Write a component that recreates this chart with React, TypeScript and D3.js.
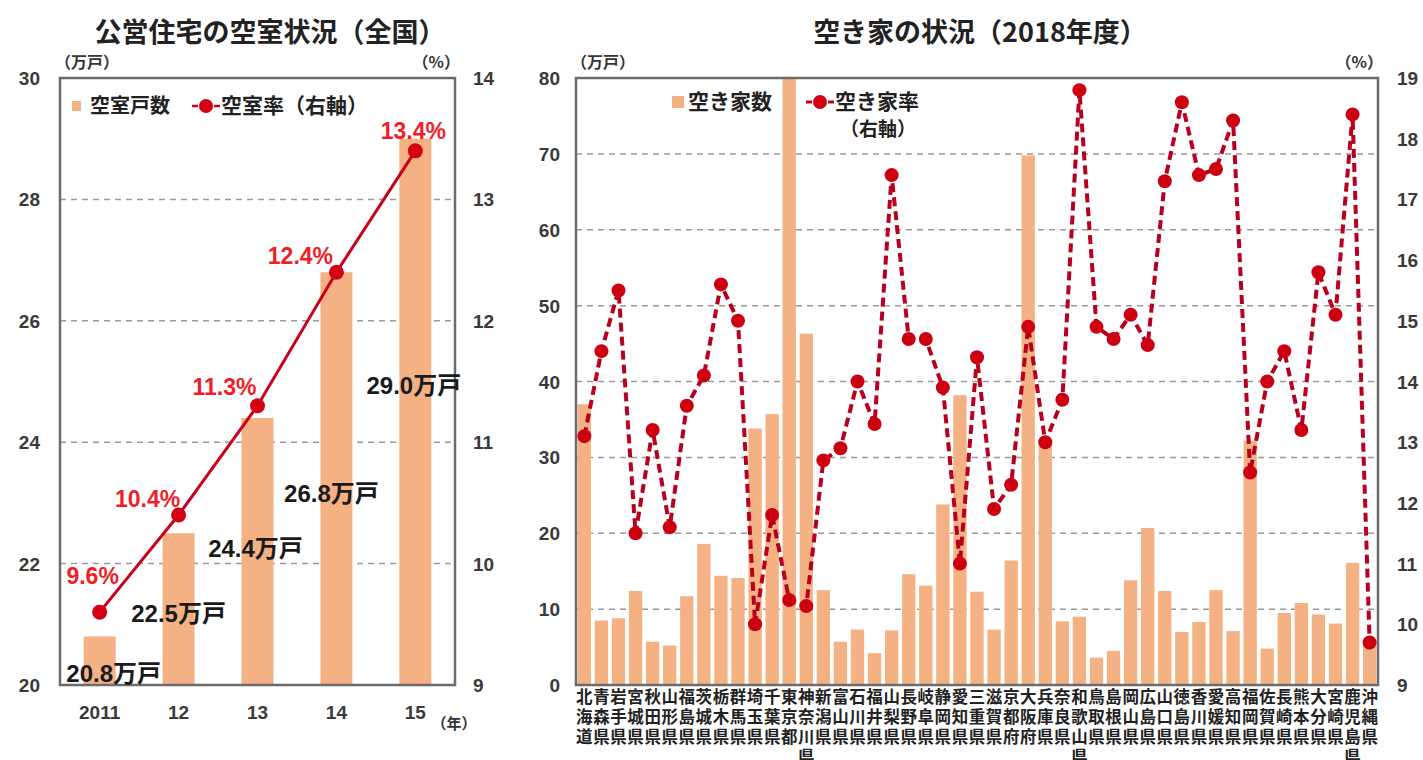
import React from 'react';
import * as d3 from 'd3';

// ---------- Left chart data ----------
const years = ['2011', '12', '13', '14', '15'];
const vacantUnits = [20.8, 22.5, 24.4, 26.8, 29.0];
const vacancyRate = [9.6, 10.4, 11.3, 12.4, 13.4];
const leftYTicks = [20, 22, 24, 26, 28, 30];
const leftY2Ticks = [9, 10, 11, 12, 13, 14];

// ---------- Right chart data ----------
const prefectures = [
  '北海道', '青森県', '岩手県', '宮城県', '秋田県', '山形県', '福島県', '茨城県', '栃木県', '群馬県',
  '埼玉県', '千葉県', '東京都', '神奈川県', '新潟県', '富山県', '石川県', '福井県', '山梨県', '長野県',
  '岐阜県', '静岡県', '愛知県', '三重県', '滋賀県', '京都府', '大阪府', '兵庫県', '奈良県', '和歌山県',
  '鳥取県', '島根県', '岡山県', '広島県', '山口県', '徳島県', '香川県', '愛媛県', '高知県', '福岡県',
  '佐賀県', '長崎県', '熊本県', '大分県', '宮崎県', '鹿児島県', '沖縄県',
];
const vacantHouses = [
  37.0, 8.5, 8.8, 12.4, 5.7, 5.2, 11.7, 18.6, 14.4, 14.1,
  33.8, 35.7, 81.0, 46.3, 12.5, 5.7, 7.3, 4.2, 7.2, 14.6,
  13.1, 23.8, 38.2, 12.3, 7.3, 16.4, 69.8, 32.3, 8.4, 9.0,
  3.6, 4.5, 13.8, 20.7, 12.4, 7.0, 8.3, 12.5, 7.1, 32.2,
  4.8, 9.5, 10.8, 9.3, 8.1, 16.1, 5.7,
];
const vacantRate = [
  13.1, 14.5, 15.5, 11.5, 13.2, 11.6, 13.6, 14.1, 15.6, 15.0,
  10.0, 11.8, 10.4, 10.3, 12.7, 12.9, 14.0, 13.3, 17.4, 14.7,
  14.7, 13.9, 11.0, 14.4, 11.9, 12.3, 14.9, 13.0, 13.7, 18.8,
  14.9, 14.7, 15.1, 14.6, 17.3, 18.6, 17.4, 17.5, 18.3, 12.5,
  14.0, 14.5, 13.2, 15.8, 15.1, 18.4, 9.7,
];
const rightYTicks = [0, 10, 20, 30, 40, 50, 60, 70, 80];
const rightY2Ticks = [9, 10, 11, 12, 13, 14, 15, 16, 17, 18, 19];

// label layout (offsets in px, label y in axis units)
const unitLabelDx = [14, 0, -2, -5, -1.5];
const unitLabelY = [20.2, 21.19, 22.26, 23.16, 24.94];
const rateLabelOffset: [number, number][] = [[-7, -37], [-31, -17], [-33, -20], [-36, -17], [-2, -21]];

const FONT = '"Liberation Sans", Arial, "Noto Sans CJK JP", sans-serif';
const JFONT = '"Noto Sans CJK JP", sans-serif';
const BAR = '#F4B183';
const RED = '#C8001A';
const TICK = '#3a3a3a';

function LegendMarker({ x, y, color, sw }: { x: number; y: number; color: string; sw: number }) {
  return (
    <g>
      <line x1={x - 14} x2={x - 8} y1={y} y2={y} stroke={color} strokeWidth={sw} />
      <line x1={x + 8} x2={x + 14} y1={y} y2={y} stroke={color} strokeWidth={sw} />
      <circle cx={x} cy={y} r={7} fill="#D40014" />
    </g>
  );
}

function LeftChart() {
  const L = 60, R = 455, T = 78, B = 685;
  const x = d3.scaleBand<string>().domain(years).range([L, R]).paddingInner(0.595).paddingOuter(0.3);
  const y = d3.scaleLinear().domain([20, 30]).range([B, T]);
  const y2 = d3.scaleLinear().domain([9, 14]).range([B, T]);
  const cx = (d: string) => (x(d) as number) + x.bandwidth() / 2;
  const line = d3.line<number>().x((_, i) => cx(years[i])).y((d) => y2(d));
  return (
    <g>
      <text x={270} y={42} textAnchor="middle" fontFamily={JFONT} fontWeight={700} fontSize={27} fill="#222">公営住宅の空室状況（全国）</text>
      <text x={55} y={68} fontFamily={JFONT} fontSize={16} fontWeight={700} fill="#333">（万戸）</text>
      <text x={460} y={68} textAnchor="end" fontFamily={JFONT} fontSize={16} fontWeight={700} fill="#333">（%）</text>
      {leftYTicks.filter((t) => t > 20 && t < 30).map((t) => (
        <line key={t} x1={L} x2={R} y1={y(t)} y2={y(t)} stroke="#9a9a9a" strokeWidth={1.5} strokeDasharray="6,5" />
      ))}
      {vacantUnits.map((v, i) => (
        <rect key={i} x={x(years[i])} y={y(v)} width={x.bandwidth()} height={B - y(v)} fill={BAR} />
      ))}
      <rect x={L} y={T} width={R - L} height={B - T} fill="none" stroke="#6b6b6b" strokeWidth={2.5} />
      {leftYTicks.map((t) => (
        <text key={t} x={40} y={y(t) + 7} textAnchor="end" fontFamily={FONT} fontWeight={700} fontSize={19} fill={TICK}>{t}</text>
      ))}
      {leftY2Ticks.map((t) => (
        <text key={t} x={473} y={y2(t) + 7} fontFamily={FONT} fontWeight={700} fontSize={19} fill={TICK}>{t}</text>
      ))}
      {years.map((d) => (
        <text key={d} x={cx(d)} y={719} textAnchor="middle" fontFamily={FONT} fontWeight={700} fontSize={19} fill={TICK}>{d}</text>
      ))}
      <text x={454} y={729} textAnchor="middle" fontFamily={JFONT} fontWeight={700} fontSize={15} fill="#333">（年）</text>
      <path d={line(vacancyRate) || ''} fill="none" stroke={RED} strokeWidth={3} />
      {vacancyRate.map((v, i) => (
        <circle key={i} cx={cx(years[i])} cy={y2(v)} r={7.5} fill="#D40014" />
      ))}
      {vacancyRate.map((v, i) => (
        <text key={i} x={cx(years[i]) + rateLabelOffset[i][0]} y={y2(v) + rateLabelOffset[i][1] + 9} textAnchor="middle"
          fontFamily={FONT} fontWeight={700} fontSize={23} fill="#F01E28">{v.toFixed(1)}%</text>
      ))}
      {vacantUnits.map((v, i) => (
        <text key={i} x={cx(years[i]) + unitLabelDx[i]} y={y(unitLabelY[i]) + 9} textAnchor="middle"
          fontFamily={FONT} fontWeight={700} fontSize={24} fill="#1a1a1a">{v.toFixed(1)}万戸</text>
      ))}
      {/* legend */}
      <rect x={72} y={101} width={9} height={10} fill={BAR} />
      <text x={90} y={113} fontFamily={JFONT} fontWeight={700} fontSize={20} fill="#222">空室戸数</text>
      <LegendMarker x={206} y={106} color={RED} sw={2.5} />
      <text x={221} y={113} fontFamily={JFONT} fontWeight={700} fontSize={21} fill="#222">空室率（右軸）</text>
    </g>
  );
}

function RightChart() {
  const L = 576, R = 1378, T = 78, B = 685;
  const x = d3.scaleBand<string>().domain(prefectures).range([L, R]).paddingInner(0.22).paddingOuter(0.1);
  const y = d3.scaleLinear().domain([0, 80]).range([B, T]);
  const y2 = d3.scaleLinear().domain([9, 19]).range([B, T]);
  const cx = (d: string) => (x(d) as number) + x.bandwidth() / 2;
  const line = d3.line<number>().x((_, i) => cx(prefectures[i])).y((d) => y2(d));
  return (
    <g>
      <defs>
        <clipPath id="rclip"><rect x={L} y={T} width={R - L} height={B - T} /></clipPath>
      </defs>
      <text x={980} y={42} textAnchor="middle" fontFamily={JFONT} fontWeight={700} fontSize={27} fill="#222">空き家の状況（2018年度）</text>
      <text x={571} y={68} fontFamily={JFONT} fontSize={16} fontWeight={700} fill="#333">（万戸）</text>
      <text x={1383} y={68} textAnchor="end" fontFamily={JFONT} fontSize={16} fontWeight={700} fill="#333">（%）</text>
      {rightYTicks.filter((t) => t > 0 && t < 80).map((t) => (
        <line key={t} x1={L} x2={R} y1={y(t)} y2={y(t)} stroke="#9a9a9a" strokeWidth={1.5} strokeDasharray="6,5" />
      ))}
      <g clipPath="url(#rclip)">
        {vacantHouses.map((v, i) => (
          <rect key={i} x={x(prefectures[i])} y={y(v)} width={x.bandwidth()} height={B - y(v)} fill={BAR} />
        ))}
      </g>
      <rect x={L} y={T} width={R - L} height={B - T} fill="none" stroke="#6b6b6b" strokeWidth={2.5} />
      {rightYTicks.map((t) => (
        <text key={t} x={560} y={y(t) + 7} textAnchor="end" fontFamily={FONT} fontWeight={700} fontSize={19} fill={TICK}>{t}</text>
      ))}
      {rightY2Ticks.map((t) => (
        <text key={t} x={1397} y={y2(t) + 7} fontFamily={FONT} fontWeight={700} fontSize={19} fill={TICK}>{t}</text>
      ))}
      {prefectures.map((p) => (
        <text key={p} textAnchor="middle" fontFamily={JFONT} fontWeight={700} fontSize={16.5} fill="#222">
          {Array.from(p).map((ch, j) => (
            <tspan key={j} x={cx(p)} y={703 + j * 20}>{ch}</tspan>
          ))}
        </text>
      ))}
      <path d={line(vacantRate) || ''} fill="none" stroke="#B8001E" strokeWidth={4} strokeDasharray="9,5" />
      {vacantRate.map((v, i) => (
        <circle key={i} cx={cx(prefectures[i])} cy={y2(v)} r={7} fill="#CC0010" />
      ))}
      {/* legend */}
      <rect x={672} y={96} width={12} height={12} fill={BAR} />
      <text x={688} y={109} fontFamily={JFONT} fontWeight={700} fontSize={21} fill="#222">空き家数</text>
      <LegendMarker x={820} y={102} color="#B8001E" sw={3} />
      <text x={835} y={109} fontFamily={JFONT} fontWeight={700} fontSize={21} fill="#222">空き家率</text>
      <text x={840} y={136} fontFamily={JFONT} fontWeight={700} fontSize={19} fill="#222">（右軸）</text>
    </g>
  );
}

export default function App() {
  return (
    <svg width={1423} height={760} style={{ position: 'absolute', left: 0, top: 0, background: '#fff' }}>
      <rect width={1423} height={760} fill="#fff" />
      <LeftChart />
      <RightChart />
    </svg>
  );
}
